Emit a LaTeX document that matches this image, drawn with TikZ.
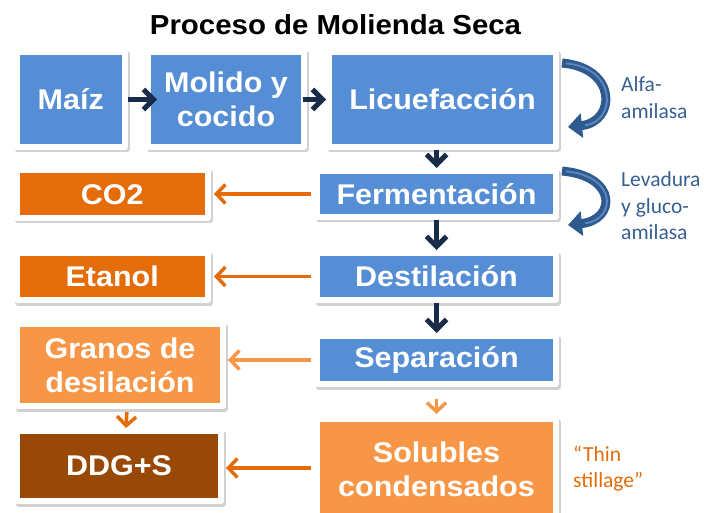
\documentclass[tikz,border=0pt]{standalone}
\usepackage{fontspec}
\setmainfont{Liberation Sans}[FakeStretch=1.07]
\newfontfamily\notefont{Carlito}
\usetikzlibrary{arrows.meta}

\definecolor{boxblue}{RGB}{85,142,213}
\definecolor{boxorange}{RGB}{228,108,10}
\definecolor{boxlight}{RGB}{247,150,70}
\definecolor{boxbrown}{RGB}{152,72,7}
\definecolor{navyarrow}{RGB}{24,44,74}
\definecolor{enzblue}{RGB}{55,96,146}
\definecolor{enzarrowcol}{RGB}{46,90,142}
\definecolor{enzlight}{RGB}{92,132,190}

\begin{document}
\begin{tikzpicture}[
        x=1pt, y=-1pt,
        box/.style={rectangle, draw=white, line width=6pt, line join=round, inner sep=0pt,
            align=center, text=white, font=\fontsize{28.5}{34}\selectfont\bfseries,
            preaction={draw=black!18, fill=black!18, line width=6pt,
                transform canvas={xshift=1.5pt, yshift=-2.5pt}}},
        navy/.style={draw=navyarrow, line width=5pt, -{Straight Barb[length=10pt, width=20pt]}},
        flow/.style={draw=boxorange, line width=3.5pt, -{Straight Barb[length=9pt, width=19pt]}},
        flowlight/.style={flow, draw=boxlight},
        note/.style={anchor=west, align=left, inner sep=0pt, text=enzblue,
            font=\notefont\fontsize{21.5}{26.5}\selectfont},
        enzarrow/.style={draw=enzarrowcol, line width=9pt, -{Triangle[length=14pt, width=24pt]}}
    ]
        \useasboundingbox (0,0) rectangle (704,513);

        \node[font=\fontsize{27.5}{33}\selectfont\bfseries, anchor=base] (title) at (335.5,35) {Proceso de Molienda Seca};

        % main line
        \node[box, fill=boxblue, minimum width=108.5pt, minimum height=95pt] (maiz) at (70.75,99.5) {Maíz};
        \node[box, fill=boxblue, minimum width=156pt, minimum height=95pt] (molido) at (226,99.5) {Molido y\\cocido};
        \node[box, fill=boxblue, minimum width=227pt, minimum height=95pt] (licue) at (442.5,99.5) {Licuefacción};
        \node[box, fill=boxblue, minimum width=239pt, minimum height=46pt] (ferm) at (436.5,194) {Fermentación};
        \node[box, fill=boxblue, minimum width=239pt, minimum height=47pt] (dest) at (436.5,276.5) {Destilación};
        \node[box, fill=boxblue, minimum width=239pt, minimum height=48pt] (sep) at (436.5,360) {Separación};
        \node[box, fill=boxlight, minimum width=239pt, minimum height=101pt] (solub) at (436.5,469.5) {Solubles\\condensados};

        % products
        \node[box, fill=boxorange, minimum width=191.5pt, minimum height=47.5pt] (co2) at (112.25,194.25) {CO2};
        \node[box, fill=boxorange, minimum width=191.5pt, minimum height=47pt] (etanol) at (112.25,276.5) {Etanol};
        \node[box, fill=boxlight, minimum width=206pt, minimum height=82pt] (granos) at (120,365) {Granos de\\desilación};
        \node[box, fill=boxbrown, minimum width=204pt, minimum height=70pt] (ddg) at (119,466) {DDG+S};

        \draw[navy, shorten >=-12pt] (maiz) -- (molido);
        \draw[navy, shorten <=-4pt] (molido) -- (licue);
        \draw[navy] (ferm.north |- licue.south) -- (ferm.north);
        \draw[navy] (ferm) -- (dest);
        \draw[navy] (dest) -- (sep);

        \coordinate (solubout) at ([yshift=1.5pt]solub.west);
        \draw[flow, shorten <=3pt, shorten >=3pt] (ferm.west) -- (co2.east |- ferm.west);
        \draw[flow, shorten <=3pt, shorten >=3pt] (dest.west) -- (etanol.east |- dest.west);
        \draw[flowlight, shorten <=3pt, shorten >=2pt] (sep.west) -- (granos.east |- sep.west);
        \draw[flowlight, shorten <=12pt, shorten >=2pt] (sep) -- (solub);
        \draw[flow, shorten <=3pt] ([xshift=7pt]granos.south) -- ([xshift=7pt]ddg.north);
        \draw[flow, shorten <=3pt, shorten >=2pt] (solubout) -- (ddg.east |- solubout);

        % enzymes
        \coordinate (e1a) at (562,63);
        \coordinate (e1b) at (568,127);
        \coordinate (e2a) at (562,171);
        \coordinate (e2b) at (568,225);
        \draw[enzarrow] (e1a) .. controls (618,68) and (616,122) .. (e1b);
        \draw[draw=enzlight, line width=2pt, shorten <=4pt, shorten >=17pt] (e1a) .. controls (618,68) and (616,122) .. (e1b);
        \draw[enzarrow] (e2a) .. controls (618,176) and (616,220) .. (e2b);
        \draw[draw=enzlight, line width=2pt, shorten <=4pt, shorten >=17pt] (e2a) .. controls (618,176) and (616,220) .. (e2b);

        \node[note] (alfa) at (621,97.5) {Alfa-\\amilasa};
        \node[note] (levadura) at (621,206) {Levadura\\y gluco-\\amilasa};
        \node[note, text=boxorange] (thin) at (573,468.5) {“Thin\\stillage”};
    \end{tikzpicture}
\end{document}
